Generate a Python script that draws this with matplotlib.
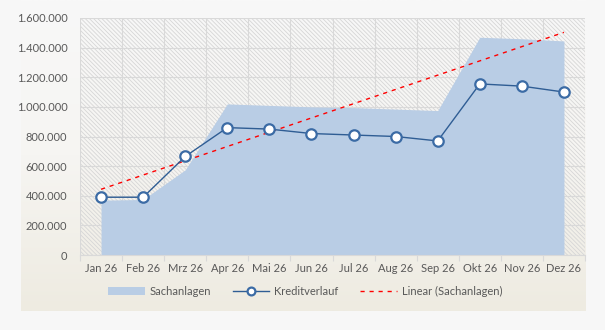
import numpy as np
import matplotlib
matplotlib.use("Agg")
import matplotlib.pyplot as plt
from matplotlib.patches import Rectangle
from matplotlib.colors import LinearSegmentedColormap
from matplotlib.ticker import FuncFormatter, FixedLocator

# data
months = ["Jan 26", "Feb 26", "Mrz 26", "Apr 26", "Mai 26", "Jun 26",
          "Jul 26", "Aug 26", "Sep 26", "Okt 26", "Nov 26", "Dez 26"]
sachanlagen = [370000, 375000, 575000, 1020000, 1010000, 1000000,
               995000, 985000, 975000, 1470000, 1460000, 1445000]
kreditverlauf = [390000, 390000, 665000, 860000, 850000, 820000,
                 810000, 800000, 770000, 1155000, 1140000, 1100000]
yticks = [0, 200000, 400000, 600000, 800000, 1000000, 1200000, 1400000, 1600000]

plt.rcParams['font.family'] = ['Lato', 'DejaVu Sans']
plt.rcParams['hatch.linewidth'] = 0.6

W, H = 605, 330
fig = plt.figure(figsize=(W / 100, H / 100), dpi=100, facecolor="#f7f7f7")

# chart panel with vertical gradient
bg = fig.add_axes([21 / W, (H - 311) / H, (586 - 21) / W, 311 / H])
cmap = LinearSegmentedColormap.from_list("panel", ["#f8f8f8", "#f6f5f2", "#eeebe1"])
bg.imshow(np.linspace(0, 1, 256).reshape(-1, 1), aspect="auto", cmap=cmap,
          extent=[0, 1, 0, 1], origin="upper")
bg.set_axis_off()

ax = fig.add_axes([80 / W, (H - 255) / H, (585 - 80) / W, (255 - 18) / H])
ax.set_facecolor("none")
x = np.arange(len(months))

ax.add_patch(Rectangle((0, 0), 1, 1, transform=ax.transAxes, facecolor="none",
                       edgecolor="#d6d6d6", hatch="\\" * 8, lw=0, zorder=0))

ax.set_xlim(-0.5, len(months) - 0.5)
ax.set_ylim(0, 1600000)

ax.fill_between(x, sachanlagen, color="#b9cde5", lw=0, zorder=2, label="Sachanlagen")
ax.plot(x, kreditverlauf, color="#2f5d94", lw=1.0, marker="o", markersize=7.5,
        markerfacecolor="white", markeredgecolor="#3b6ba5", markeredgewidth=1.6,
        zorder=4, label="Kreditverlauf")

coef = np.polyfit(x, sachanlagen, 1)
ax.plot(x, np.polyval(coef, x), color="#ff0000", lw=1.0, dashes=(3, 3.5),
        zorder=3, label="Linear (Sachanlagen)")

ax.set_yticks(yticks)
ax.yaxis.set_major_formatter(FuncFormatter(lambda v, p: f"{int(v):,}".replace(",", ".")))
ax.set_xticks(x)
ax.set_xticklabels(months)
ax.xaxis.set_minor_locator(FixedLocator(np.arange(-0.5, len(months), 1.0)))
ax.grid(True, which="minor", axis="x", color="#d9d9d9", lw=0.8, zorder=1)
ax.grid(True, which="major", axis="y", color="#d9d9d9", lw=0.8, zorder=1)
ax.set_axisbelow(True)

for s in ["top", "right", "left"]:
    ax.spines[s].set_visible(False)
ax.spines["bottom"].set_color("#d9d9d9")
ax.spines["bottom"].set_linewidth(0.8)
ax.spines["bottom"].set_zorder(5)

ax.tick_params(axis="both", which="major", length=0, labelsize=8, labelcolor="#595959")
ax.tick_params(axis="x", which="major", pad=6)
ax.tick_params(axis="y", which="major", pad=9)
ax.tick_params(axis="x", which="minor", length=4, color="#d9d9d9", width=0.8)

fig.legend(loc="center", bbox_to_anchor=(305 / W, (H - 291) / H), ncol=3, frameon=False,
           fontsize=8, labelcolor="#595959", handlelength=3.3, handletextpad=0.4,
           columnspacing=2.0, markerscale=0.75)

fig.savefig("out.png", dpi=100, facecolor=fig.get_facecolor())
